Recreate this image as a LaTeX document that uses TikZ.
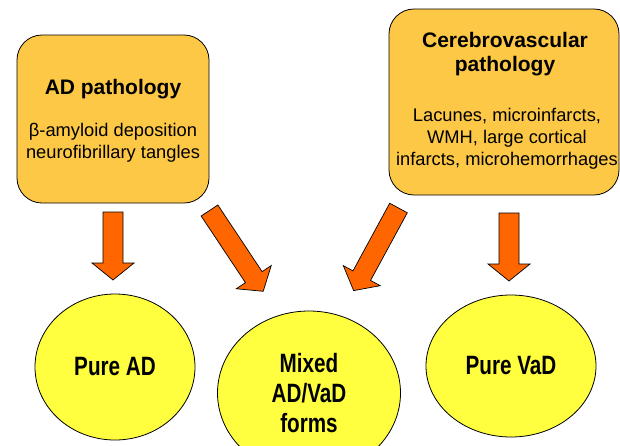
\documentclass[tikz,border=0pt]{standalone}
\usepackage{fontspec}
\setmainfont{Liberation Sans}
\newfontfamily\ellfont[FakeStretch=0.78]{Liberation Sans}
\usetikzlibrary{shapes.geometric}
\definecolor{boxfill}{RGB}{253,200,70}
\definecolor{ellfill}{RGB}{255,255,64}
\definecolor{arrfill}{RGB}{255,102,0}
\tikzset{
  pathbox/.style={draw=black, line width=0.8pt, fill=boxfill, rounded corners=25pt, inner sep=0pt},
  titletext/.style={font=\fontsize{21}{24}\selectfont\bfseries, inner sep=0pt, anchor=base},
  bodytext/.style={font=\fontsize{18.3}{22}\selectfont, inner sep=0pt, anchor=base},
  outcome/.style={ellipse, draw=black, line width=0.8pt, fill=ellfill, inner sep=0pt, align=center,
    font=\fontsize{26.5}{30}\selectfont\ellfont\bfseries},
  arrowstyle/.style={draw=black, line width=0.7pt, fill=arrfill, line join=miter},
  blockarrow/.pic={\path[arrowstyle] (0,-10) -- ({#1-17},-10) -- ({#1-17},-21) -- (#1,0) -- ({#1-17},21) -- ({#1-17},10) -- (0,10) -- cycle;}
}
\begin{document}
\begin{tikzpicture}[x=1pt,y=-1pt]
\useasboundingbox (0,0) rectangle (620,445);
% boxes
\node[pathbox, minimum width=192pt, minimum height=168pt] (adbox) at (113,119) {};
\node[pathbox, minimum width=230pt, minimum height=186pt] (cvbox) at (504,102) {};
\node[titletext] (adtitle) at (113,94) {AD pathology};
\node[bodytext] (adbody1) at (113,136) {β-amyloid deposition};
\node[bodytext] (adbody2) at (113,158) {neurofibrillary tangles};
\node[titletext] (cvtitle1) at (505,47) {Cerebrovascular};
\node[titletext] (cvtitle2) at (505,71) {pathology};
\node[bodytext] (cvbody1) at (507,121) {Lacunes, microinfarcts,};
\node[bodytext] (cvbody2) at (507,143) {WMH, large cortical};
\node[bodytext] (cvbody3) at (507,165) {infarcts, microhemorrhages};
% outcomes
\node[outcome, minimum width=160pt, minimum height=146pt] (pad) at (115,367) {Pure AD};
\node[outcome, minimum width=183pt, minimum height=164pt] (mixed) at (309,393) {Mixed\\AD/VaD\\forms};
\node[outcome, minimum width=170pt, minimum height=142pt] (pvad) at (511,366) {Pure VaD};
% arrows
\coordinate (a1) at (113,212);
\coordinate (a2) at (209.5,210.5);
\coordinate (a3) at (398.5,208);
\coordinate (a4) at (509,213);
\pic[rotate=-90] at (a1) {blockarrow=68};
\pic[rotate=-56.4] at (a2) {blockarrow=97};
\pic[rotate=-118.5] at (a3) {blockarrow=94};
\pic[rotate=-90] at (a4) {blockarrow=68};
\end{tikzpicture}
\end{document}
